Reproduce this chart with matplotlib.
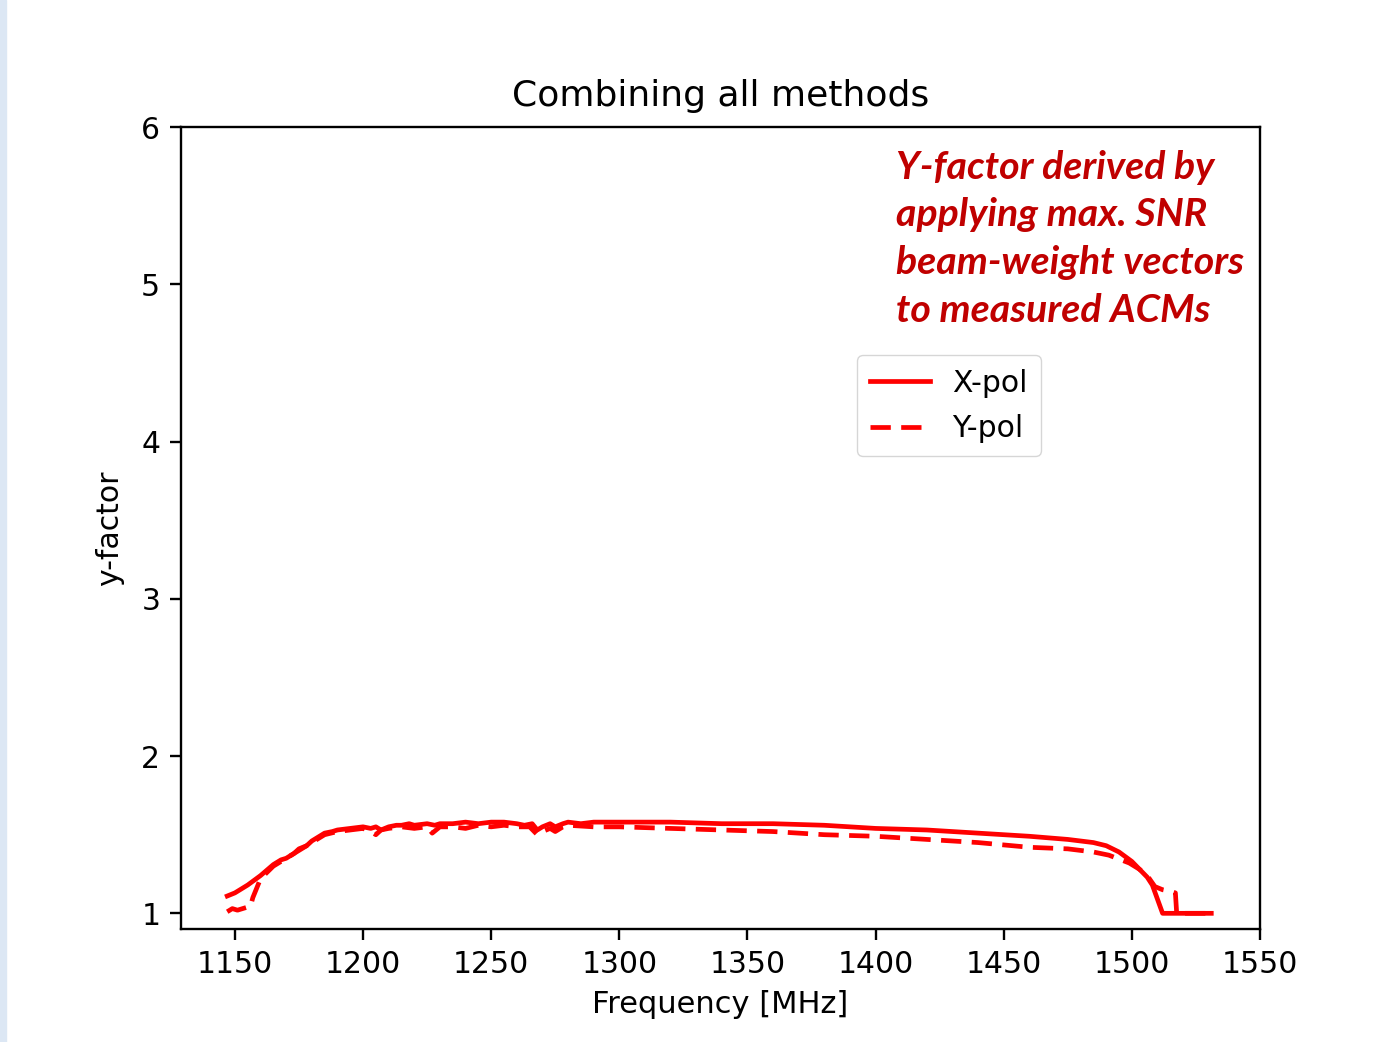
import matplotlib.pyplot as plt
from matplotlib.patches import Rectangle

# X-pol curve (solid)
freq_x = [1147, 1150, 1155, 1160, 1165, 1168, 1170, 1173, 1175, 1178, 1180, 1183,
          1185, 1188, 1190, 1195, 1200, 1203, 1205, 1207, 1210, 1213, 1215, 1218,
          1220, 1225, 1228, 1230, 1235, 1240, 1245, 1250, 1255, 1260, 1263, 1266,
          1268, 1270, 1273, 1275, 1278, 1280, 1285, 1290, 1300, 1320, 1340, 1360,
          1380, 1400, 1420, 1440, 1460, 1475, 1485, 1490, 1495, 1500, 1503, 1506,
          1508, 1510, 1512, 1520, 1531]
yfac_x = [1.11, 1.13, 1.18, 1.24, 1.31, 1.34, 1.35, 1.38, 1.41, 1.43, 1.46, 1.49,
          1.51, 1.52, 1.53, 1.54, 1.55, 1.54, 1.55, 1.53, 1.55, 1.56, 1.56, 1.57,
          1.56, 1.57, 1.56, 1.57, 1.57, 1.58, 1.57, 1.58, 1.58, 1.57, 1.56, 1.57,
          1.53, 1.55, 1.57, 1.55, 1.57, 1.58, 1.57, 1.58, 1.58, 1.58, 1.57, 1.57,
          1.56, 1.54, 1.53, 1.51, 1.49, 1.47, 1.45, 1.43, 1.39, 1.33, 1.28, 1.23,
          1.18, 1.09, 1.00, 1.00, 1.00]

# Y-pol curve (dashed)
freq_y = [1147, 1149, 1151, 1153, 1155, 1156, 1157, 1160, 1165, 1170, 1175, 1178,
          1180, 1185, 1190, 1195, 1200, 1203, 1205, 1207, 1210, 1215, 1220, 1225,
          1227, 1230, 1235, 1240, 1245, 1250, 1255, 1260, 1265, 1268, 1270, 1273,
          1275, 1278, 1280, 1290, 1300, 1320, 1340, 1360, 1380, 1400, 1420, 1440,
          1460, 1475, 1485, 1491, 1499, 1503, 1506, 1509, 1512, 1515, 1517, 1517.5,
          1531]
yfac_y = [1.01, 1.03, 1.02, 1.03, 1.04, 1.04, 1.10, 1.22, 1.30, 1.35, 1.40, 1.43,
          1.45, 1.50, 1.52, 1.53, 1.54, 1.52, 1.50, 1.53, 1.54, 1.55, 1.54, 1.55,
          1.51, 1.55, 1.55, 1.54, 1.56, 1.55, 1.56, 1.55, 1.55, 1.50, 1.52, 1.54,
          1.52, 1.55, 1.56, 1.55, 1.55, 1.54, 1.53, 1.52, 1.50, 1.49, 1.47, 1.45,
          1.42, 1.41, 1.39, 1.37, 1.32, 1.28, 1.24, 1.17, 1.15, 1.14, 1.13, 1.00,
          1.00]

xticks = [1150, 1200, 1250, 1300, 1350, 1400, 1450, 1500, 1550]
yticks = [1, 2, 3, 4, 5, 6]

fig = plt.figure(figsize=(13.93, 10.42), dpi=100)
# slide background strip on the left edge
fig.patches.append(Rectangle((0, 0), 0.0045, 1, transform=fig.transFigure,
                             color='#dce7f4', zorder=0))

ax = fig.add_axes([0.130, 0.1084, 0.7745, 0.7696])
ax.plot(freq_x, yfac_x, color='red', lw=3.4, label='X-pol')
ax.plot(freq_y, yfac_y, color='red', lw=3.4, ls='--', dashes=(4.3, 2.2), label='Y-pol')

ax.set_xlim(1129, 1550)
ax.set_ylim(0.9, 6)
ax.set_xticks(xticks)
ax.set_yticks(yticks)
ax.tick_params(labelsize=21.5, length=8, width=1.7, pad=7)
for s in ax.spines.values():
    s.set_linewidth(1.7)

ax.set_title('Combining all methods', fontsize=26, pad=15)
ax.set_xlabel('Frequency [MHz]', fontsize=22, labelpad=8)
ax.set_ylabel('y-factor', fontsize=21.5, labelpad=12)

ax.legend(loc='upper left', bbox_to_anchor=(0.6265, 0.7157), fontsize=21.5,
          handlelength=2.0, borderpad=0.45, labelspacing=0.55, handletextpad=0.75,
          borderaxespad=0)

ax.text(0.663, 0.972, 'Y-factor derived by\napplying max. SNR\nbeam-weight vectors\nto measured ACMs',
        transform=ax.transAxes, ha='left', va='top', color='#c00000',
        fontsize=28.3, family='Lato', weight='bold', style='italic', linespacing=1.44)

fig.savefig('out.png', dpi=100)
